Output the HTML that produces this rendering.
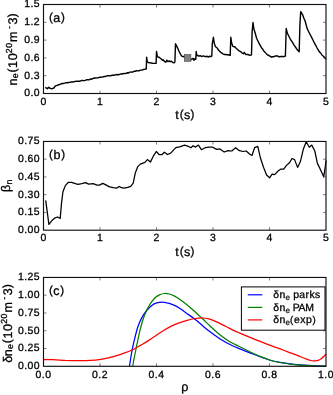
<!DOCTYPE html>
<html><head><meta charset="utf-8"><title>figure</title>
<style>html,body{margin:0;padding:0;background:#fff}svg{display:block}text{font-family:"Liberation Sans",sans-serif}</style>
</head><body>
<svg width="333" height="395" viewBox="0 0 333 395">
<defs><filter id="g" x="0" y="0" width="333" height="395" filterUnits="userSpaceOnUse" color-interpolation-filters="sRGB"><feColorMatrix type="saturate" values="0"/></filter></defs>
<rect width="333" height="395" fill="#fff"/>
<path d="M45.4 87.2 L46.4 88.2 L47.5 88.7 L48.2 87.8 L48.8 87.2 L49.8 88.2 L51.1 88.7 L52.5 88.5 L53.8 88.0 L54.8 86.8 L55.6 85.8 L57.0 85.4 L58.3 85.0 L59.6 84.4 L61.0 84.0 L62.2 83.4 L63.4 83.5 L64.6 83.1 L65.9 82.6 L67.3 82.8 L68.7 82.5 L70.0 82.4 L71.1 81.9 L72.2 82.1 L73.4 81.6 L74.5 81.7 L75.6 81.3 L76.8 81.2 L77.9 81.3 L79.0 81.2 L80.1 81.3 L81.2 80.5 L82.4 80.4 L83.5 80.6 L84.6 80.6 L85.8 80.1 L86.9 79.8 L88.0 79.7 L89.1 79.9 L90.2 78.9 L91.4 79.3 L92.5 78.6 L93.6 78.3 L94.8 78.0 L95.9 78.0 L97.0 77.9 L98.3 77.9 L99.5 77.2 L100.8 77.3 L102.0 77.1 L103.3 76.8 L104.4 76.5 L105.6 76.5 L106.7 75.9 L107.9 75.8 L109.0 75.7 L110.2 75.9 L111.3 75.5 L112.5 75.3 L113.6 75.3 L114.8 75.0 L115.9 74.9 L117.1 74.5 L118.2 74.7 L119.4 74.5 L120.5 73.9 L121.7 74.0 L122.8 73.7 L124.0 73.5 L125.1 73.6 L126.3 73.3 L127.4 72.7 L128.6 73.0 L129.7 72.1 L130.9 72.1 L132.0 72.0 L133.1 72.0 L134.3 71.2 L135.4 71.3 L136.6 70.7 L137.7 70.9 L138.9 70.8 L140.0 70.3 L141.1 70.1 L142.3 70.1 L143.4 69.4 L144.6 69.4 L145.7 69.0 L146.3 68.8 L146.6 57.1 L147.2 61.5 L148.2 62.5 L149.8 62.8 L151.3 63.0 L152.6 63.3 L153.9 63.4 L156.1 63.4 L156.5 51.4 L157.4 56.4 L158.3 57.4 L159.2 57.1 L160.2 58.3 L161.4 59.0 L162.4 60.2 L163.3 60.0 L164.6 61.5 L165.9 62.1 L166.9 60.2 L168.0 61.7 L169.3 60.9 L170.3 61.7 L171.5 61.2 L172.8 62.5 L174.3 62.7 L174.9 62.1 L175.5 43.8 L176.6 45.9 L177.8 48.4 L178.8 50.8 L180.7 54.6 L181.9 56.2 L184.1 56.8 L186.0 57.5 L187.5 58.1 L189.0 58.8 L191.0 59.6 L192.0 59.0 L193.3 58.4 L193.9 60.3 L195.2 58.4 L195.8 59.3 L196.2 51.4 L196.7 55.9 L197.7 55.2 L199.0 56.2 L200.2 55.6 L201.5 56.5 L203.4 55.9 L205.3 56.7 L207.2 56.2 L208.4 57.1 L209.7 56.2 L210.9 56.7 L211.8 55.9 L212.3 43.5 L213.4 37.3 L214.3 43.5 L215.5 46.7 L217.0 47.8 L218.5 50.0 L219.7 51.4 L220.8 52.3 L223.0 53.8 L224.2 54.5 L225.3 54.5 L227.5 54.8 L228.8 55.0 L230.2 55.3 L230.8 37.3 L231.7 43.3 L232.8 46.3 L235.0 47.0 L236.2 48.3 L237.3 49.3 L239.5 51.2 L240.7 51.6 L241.8 52.7 L243.3 53.8 L244.3 52.3 L245.5 54.2 L246.7 54.5 L247.8 54.5 L250.0 55.3 L251.5 54.8 L252.1 32.0 L253.0 22.5 L253.9 29.0 L255.3 33.5 L256.6 38.3 L257.8 40.8 L259.1 43.4 L260.3 45.6 L261.5 47.7 L262.8 49.3 L264.0 51.3 L265.2 52.4 L266.5 53.9 L267.7 55.0 L268.9 55.4 L270.2 56.4 L271.4 57.2 L272.6 56.7 L273.9 56.7 L275.1 56.0 L276.3 56.0 L277.5 55.9 L278.8 56.7 L280.0 56.7 L281.2 56.4 L282.5 56.5 L283.7 56.7 L285.4 56.0 L286.2 28.4 L287.4 33.3 L288.6 35.7 L289.9 38.3 L291.1 40.5 L292.4 42.1 L293.6 44.4 L294.8 46.2 L296.1 48.0 L297.3 49.8 L299.2 51.8 L299.9 24.7 L300.7 11.7 L302.7 14.9 L303.9 18.2 L305.1 21.0 L307.1 28.4 L308.3 31.0 L309.6 33.5 L310.8 35.8 L312.0 38.1 L313.3 40.7 L314.5 43.2 L315.7 45.3 L317.0 47.8 L318.2 49.8 L319.4 51.9 L320.7 53.0 L321.9 55.0 L323.1 56.0 L324.4 57.3 L325.6 58.7 L326.3 59.2" fill="none" stroke="#000" stroke-width="1.4" stroke-linejoin="round" stroke-linecap="butt"/>
<rect x="184.3" y="54.5" width="6.6" height="6.8" fill="#808080" stroke="#444" stroke-width="0.6"/>
<rect x="43.5" y="4.5" width="282.50" height="89.00" fill="none" stroke="#111" stroke-width="1.15"/>
<path d="M100.00 93.5v-3.0M100.00 4.5v3.0M156.50 93.5v-3.0M156.50 4.5v3.0M213.00 93.5v-3.0M213.00 4.5v3.0M269.50 93.5v-3.0M269.50 4.5v3.0M43.5 75.70h3.0M326.0 75.70h-3.0M43.5 57.90h3.0M326.0 57.90h-3.0M43.5 40.10h3.0M326.0 40.10h-3.0M43.5 22.30h3.0M326.0 22.30h-3.0" stroke="#333" stroke-width="0.65" fill="none"/>
<path d="M45.7 200.3 L48.9 224.4 L50.5 222.3 L52.2 220.3 L55.2 217.8 L57.7 217.0 L60.2 218.5 L61.5 203.4 L62.9 192.0 L65.3 185.6 L68.4 182.3 L71.6 182.3 L75.4 183.6 L78.0 184.4 L81.8 183.6 L85.6 182.6 L88.6 184.1 L93.2 183.6 L97.0 185.1 L99.5 185.1 L102.8 183.4 L105.8 184.9 L109.6 186.9 L113.4 187.7 L116.7 188.2 L119.0 186.4 L121.5 187.7 L124.0 188.2 L127.7 187.4 L130.7 186.4 L133.2 183.1 L135.3 173.0 L137.8 166.6 L140.3 164.1 L144.9 162.3 L147.4 159.6 L150.4 162.1 L153.5 155.8 L156.3 151.5 L159.3 154.7 L161.8 154.7 L164.4 152.2 L167.4 154.5 L170.7 153.2 L175.8 147.7 L179.6 146.9 L184.6 145.1 L188.4 146.4 L191.0 147.7 L193.0 145.7 L195.6 147.1 L198.4 145.1 L201.4 149.7 L205.2 147.7 L209.0 147.2 L212.8 147.2 L216.6 149.4 L219.9 148.9 L224.2 152.0 L228.0 150.7 L231.8 151.0 L235.6 147.7 L239.4 150.7 L243.2 151.5 L246.2 151.0 L249.5 154.0 L252.0 155.5 L254.6 147.7 L257.8 146.4 L260.4 157.8 L263.5 167.2 L266.6 175.0 L269.6 177.8 L272.1 174.2 L274.6 174.6 L278.1 171.0 L280.6 169.2 L283.7 169.2 L286.5 165.4 L289.5 162.8 L292.0 158.5 L294.6 159.6 L297.6 167.4 L300.4 161.6 L303.4 148.9 L306.2 141.8 L309.3 147.2 L311.8 145.1 L314.8 151.0 L317.4 163.4 L319.9 168.4 L323.7 176.8 L326.2 160.3" fill="none" stroke="#000" stroke-width="1.25" stroke-linejoin="round" stroke-linecap="butt"/>
<rect x="43.5" y="141.45" width="282.50" height="88.75" fill="none" stroke="#111" stroke-width="1.15"/>
<path d="M100.00 230.2v-3.0M100.00 141.45v3.0M156.50 230.2v-3.0M156.50 141.45v3.0M213.00 230.2v-3.0M213.00 141.45v3.0M269.50 230.2v-3.0M269.50 141.45v3.0M43.5 212.45h3.0M326.0 212.45h-3.0M43.5 194.70h3.0M326.0 194.70h-3.0M43.5 176.95h3.0M326.0 176.95h-3.0M43.5 159.20h3.0M326.0 159.20h-3.0" stroke="#333" stroke-width="0.65" fill="none"/>
<path d="M129.5 366.2C129.8 364.1 130.7 357.7 131.5 353.5C132.3 349.3 133.0 345.3 134.1 340.9C135.2 336.5 136.6 330.8 137.8 327.0C139.1 323.2 140.1 320.9 141.6 318.1C143.1 315.4 145.0 312.6 146.7 310.5C148.4 308.4 150.1 306.7 151.8 305.4C153.5 304.1 155.1 303.4 156.8 302.9C158.5 302.4 160.2 302.2 161.9 302.2C163.6 302.2 165.1 302.4 167.0 302.9C168.9 303.3 171.1 304.0 173.3 304.9C175.5 305.8 177.7 307.0 180.0 308.5C182.3 310.0 184.6 311.9 187.2 313.7C189.8 315.5 192.6 317.4 195.3 319.5C198.0 321.6 200.6 324.1 203.4 326.4C206.2 328.7 209.4 331.3 212.4 333.5C215.4 335.7 218.4 337.9 221.4 339.8C224.4 341.7 227.4 343.3 230.5 344.8C233.6 346.3 236.1 347.3 239.8 348.8C243.6 350.3 249.3 352.6 253.0 354.0C256.7 355.4 259.0 356.4 262.0 357.5C265.0 358.6 268.0 359.7 271.0 360.5C274.0 361.3 276.5 361.8 280.0 362.4C283.5 363.0 287.9 363.6 292.0 364.1C296.1 364.6 300.5 364.9 304.7 365.2C308.9 365.5 313.8 365.7 317.4 365.9C320.9 366.1 324.6 366.1 326.0 366.2" fill="none" stroke="#0000ff" stroke-width="1.25"/>
<path d="M132.8 366.2C132.9 365.4 133.2 363.2 133.5 361.5C133.8 359.8 134.2 358.1 134.6 356.0C135.0 353.9 135.5 351.6 136.0 349.0C136.5 346.4 137.1 343.6 137.8 340.4C138.5 337.2 139.2 333.3 140.1 329.8C141.0 326.3 142.1 322.4 143.1 319.3C144.1 316.2 145.3 313.4 146.2 311.3C147.1 309.2 147.5 308.6 148.4 307.0C149.3 305.4 150.6 303.2 151.8 301.6C153.0 300.0 154.3 298.4 155.6 297.3C156.9 296.2 157.9 295.4 159.4 294.8C160.9 294.2 162.7 293.6 164.4 293.5C166.1 293.4 167.8 293.6 169.5 294.0C171.2 294.4 172.8 295.2 174.6 296.1C176.3 297.0 177.9 298.1 180.0 299.6C182.1 301.1 184.6 302.8 187.2 304.9C189.8 307.0 192.8 309.7 195.3 312.0C197.9 314.3 199.9 316.4 202.5 318.8C205.1 321.2 207.8 323.9 210.6 326.5C213.4 329.1 216.6 332.1 219.6 334.5C222.6 336.9 226.0 339.4 228.6 341.0C231.2 342.6 233.1 343.4 235.0 344.4C236.9 345.4 238.3 346.1 239.8 346.8C241.3 347.5 241.8 347.7 244.0 348.8C246.2 349.9 250.0 351.9 253.0 353.3C256.0 354.7 259.0 356.0 262.0 357.2C265.0 358.4 268.0 359.6 271.0 360.5C274.0 361.4 276.5 361.9 280.0 362.5C283.5 363.1 287.9 363.8 292.0 364.3C296.1 364.8 300.5 365.1 304.7 365.4C308.9 365.7 313.8 365.9 317.4 366.0C320.9 366.1 324.6 366.2 326.0 366.2" fill="none" stroke="#008000" stroke-width="1.25"/>
<path d="M43.5 359.5C45.0 359.5 49.1 359.6 52.7 359.7C56.3 359.8 61.1 360.2 65.3 360.4C69.5 360.5 73.8 360.6 78.0 360.6C82.2 360.6 86.8 360.6 90.6 360.4C94.4 360.2 97.8 359.8 100.8 359.4C103.8 359.0 105.9 358.4 108.4 357.8C110.9 357.2 113.3 356.7 115.9 355.9C118.5 355.1 121.2 354.2 124.0 353.2C126.8 352.2 130.1 351.0 132.8 349.7C135.5 348.4 137.9 346.9 140.4 345.4C142.9 343.9 145.5 342.5 148.0 340.9C150.5 339.3 153.1 337.5 155.6 335.8C158.1 334.1 160.7 332.4 163.2 330.8C165.7 329.2 168.3 327.7 170.8 326.4C173.3 325.1 175.7 324.2 178.4 323.2C181.1 322.2 184.4 321.1 187.2 320.3C190.0 319.5 192.8 318.9 195.3 318.5C197.9 318.1 200.2 317.9 202.5 318.0C204.8 318.1 206.6 318.3 208.8 318.9C211.1 319.5 213.3 320.4 216.0 321.6C218.7 322.8 222.0 324.5 225.0 326.0C228.0 327.5 231.5 329.4 234.0 330.6C236.5 331.8 236.6 331.8 239.8 333.1C243.0 334.4 247.8 336.5 253.0 338.6C258.2 340.7 266.0 343.7 271.0 345.6C276.0 347.5 279.0 348.5 283.0 350.0C287.0 351.5 292.0 353.3 294.8 354.4C297.6 355.4 297.9 355.6 299.6 356.3C301.3 357.0 303.2 357.8 305.0 358.5C306.8 359.2 309.0 360.1 310.5 360.5C312.0 360.9 312.8 360.9 314.0 360.9C315.2 360.9 316.8 360.7 318.0 360.3C319.2 359.9 320.5 359.1 321.5 358.4C322.5 357.7 323.2 357.1 324.0 356.3C324.8 355.5 325.7 354.2 326.0 353.8" fill="none" stroke="#ff0000" stroke-width="1.25"/>
<rect x="43.5" y="277.45" width="282.50" height="88.85" fill="none" stroke="#111" stroke-width="1.15"/>
<path d="M100.00 366.3v-3.0M100.00 277.45v3.0M156.50 366.3v-3.0M156.50 277.45v3.0M213.00 366.3v-3.0M213.00 277.45v3.0M269.50 366.3v-3.0M269.50 277.45v3.0M43.5 348.53h3.0M326.0 348.53h-3.0M43.5 330.76h3.0M326.0 330.76h-3.0M43.5 312.99h3.0M326.0 312.99h-3.0M43.5 295.22h3.0M326.0 295.22h-3.0" stroke="#333" stroke-width="0.65" fill="none"/>
<rect x="241.4" y="286.9" width="83.6" height="43.3" fill="#fff" stroke="#000" stroke-width="1"/>
<path d="M247.8 294.8H262.3" stroke="#0000ff" stroke-width="1.2"/>
<path d="M247.8 307.4H262.3" stroke="#008000" stroke-width="1.2"/>
<path d="M247.8 319.9H262.3" stroke="#ff0000" stroke-width="1.2"/>
<g font-family="Liberation Sans, sans-serif" fill="#000" stroke="#000" stroke-width="0.3" text-rendering="geometricPrecision" filter="url(#g)">
<text x="24.23" y="96.30" font-size="10.45" letter-spacing="0.46">0.0</text>
<text x="24.23" y="78.50" font-size="10.45" letter-spacing="0.46">0.3</text>
<text x="24.23" y="60.70" font-size="10.45" letter-spacing="0.46">0.6</text>
<text x="24.23" y="42.90" font-size="10.45" letter-spacing="0.46">0.9</text>
<text x="24.23" y="25.10" font-size="10.45" letter-spacing="0.46">1.2</text>
<text x="24.23" y="7.30" font-size="10.45" letter-spacing="0.46">1.5</text>
<text x="17.88" y="233.00" font-size="10.45" letter-spacing="0.48">0.00</text>
<text x="17.88" y="215.25" font-size="10.45" letter-spacing="0.48">0.15</text>
<text x="17.88" y="197.50" font-size="10.45" letter-spacing="0.48">0.30</text>
<text x="17.88" y="179.75" font-size="10.45" letter-spacing="0.48">0.45</text>
<text x="17.88" y="162.00" font-size="10.45" letter-spacing="0.48">0.60</text>
<text x="17.88" y="144.25" font-size="10.45" letter-spacing="0.48">0.75</text>
<text x="17.88" y="369.10" font-size="10.45" letter-spacing="0.48">0.00</text>
<text x="17.88" y="351.33" font-size="10.45" letter-spacing="0.48">0.25</text>
<text x="17.88" y="333.56" font-size="10.45" letter-spacing="0.48">0.50</text>
<text x="17.88" y="315.79" font-size="10.45" letter-spacing="0.48">0.75</text>
<text x="17.88" y="298.02" font-size="10.45" letter-spacing="0.48">1.00</text>
<text x="17.88" y="280.25" font-size="10.45" letter-spacing="0.48">1.25</text>
<text x="40.39" y="104.75" font-size="10.45" letter-spacing="0.55">0</text>
<text x="96.89" y="104.75" font-size="10.45" letter-spacing="0.55">1</text>
<text x="153.39" y="104.75" font-size="10.45" letter-spacing="0.55">2</text>
<text x="209.89" y="104.75" font-size="10.45" letter-spacing="0.55">3</text>
<text x="266.39" y="104.75" font-size="10.45" letter-spacing="0.55">4</text>
<text x="322.89" y="104.75" font-size="10.45" letter-spacing="0.55">5</text>
<text x="40.39" y="241.45" font-size="10.45" letter-spacing="0.55">0</text>
<text x="96.89" y="241.45" font-size="10.45" letter-spacing="0.55">1</text>
<text x="153.39" y="241.45" font-size="10.45" letter-spacing="0.55">2</text>
<text x="209.89" y="241.45" font-size="10.45" letter-spacing="0.55">3</text>
<text x="266.39" y="241.45" font-size="10.45" letter-spacing="0.55">4</text>
<text x="322.89" y="241.45" font-size="10.45" letter-spacing="0.55">5</text>
<text x="35.58" y="377.55" font-size="10.45" letter-spacing="0.46">0.0</text>
<text x="92.08" y="377.55" font-size="10.45" letter-spacing="0.46">0.2</text>
<text x="148.58" y="377.55" font-size="10.45" letter-spacing="0.46">0.4</text>
<text x="205.08" y="377.55" font-size="10.45" letter-spacing="0.46">0.6</text>
<text x="261.58" y="377.55" font-size="10.45" letter-spacing="0.46">0.8</text>
<text x="318.08" y="377.55" font-size="10.45" letter-spacing="0.46">1.0</text>
<text x="48.90" y="21.44" font-size="11.66" letter-spacing="0.80">(</text>
<text x="53.37" y="22.40" font-size="12.54" letter-spacing="0.38">a</text>
<text x="60.93" y="21.44" font-size="11.66" letter-spacing="0.80">)</text>
<text x="48.90" y="158.24" font-size="11.66" letter-spacing="0.80">(</text>
<text x="53.50" y="159.20" font-size="12.54" letter-spacing="0.64">b</text>
<text x="61.20" y="158.24" font-size="11.66" letter-spacing="0.80">)</text>
<text x="48.90" y="294.44" font-size="11.66" letter-spacing="0.80">(</text>
<text x="53.35" y="295.40" font-size="12.54" letter-spacing="0.33">c</text>
<text x="60.18" y="294.44" font-size="11.66" letter-spacing="0.80">)</text>
<text x="175.15" y="119.00" font-size="12.54" letter-spacing="1.22">t</text>
<text x="179.64" y="118.04" font-size="11.66" letter-spacing="0.80">(</text>
<text x="183.92" y="119.00" font-size="12.54" letter-spacing="-0.02">s</text>
<text x="190.58" y="118.04" font-size="11.66" letter-spacing="0.80">)</text>
<text x="175.15" y="255.70" font-size="12.54" letter-spacing="1.22">t</text>
<text x="179.64" y="254.74" font-size="11.66" letter-spacing="0.80">(</text>
<text x="183.92" y="255.70" font-size="12.54" letter-spacing="-0.02">s</text>
<text x="190.58" y="254.74" font-size="11.66" letter-spacing="0.80">)</text>
<text x="181.23" y="390.90" font-size="12.54" letter-spacing="0.48">ρ</text>
<g transform="translate(16.5,85.9) rotate(-90)">
<text x="0.32" y="0.00" font-size="12.54" letter-spacing="0.63">n</text>
<text x="7.64" y="1.50" font-size="8.78" letter-spacing="0.29">e</text>
<text x="13.30" y="-0.96" font-size="11.66" letter-spacing="0.80">(</text>
<text x="17.91" y="0.00" font-size="12.54" letter-spacing="0.66">10</text>
<text x="32.73" y="-4.80" font-size="8.78" letter-spacing="0.46">20</text>
<text x="43.92" y="0.00" font-size="12.54" letter-spacing="1.24">m</text>
<text x="56.85" y="-4.80" font-size="8.78" letter-spacing="0.11">-</text>
<text x="61.33" y="0.00" font-size="12.54" letter-spacing="0.66">3</text>
<text x="68.60" y="-0.96" font-size="11.66" letter-spacing="0.80">)</text>
</g>
<g transform="translate(11.7,356.5) rotate(-90)">
<text x="-6.32" y="0.00" font-size="12.54" letter-spacing="0.36">δ</text>
<text x="0.32" y="0.00" font-size="12.54" letter-spacing="0.63">n</text>
<text x="7.64" y="1.50" font-size="8.78" letter-spacing="0.29">e</text>
<text x="13.30" y="-0.96" font-size="11.66" letter-spacing="0.80">(</text>
<text x="17.91" y="0.00" font-size="12.54" letter-spacing="0.66">10</text>
<text x="32.73" y="-4.80" font-size="8.78" letter-spacing="0.46">20</text>
<text x="43.92" y="0.00" font-size="12.54" letter-spacing="1.24">m</text>
<text x="56.85" y="-4.80" font-size="8.78" letter-spacing="0.11">-</text>
<text x="61.33" y="0.00" font-size="12.54" letter-spacing="0.66">3</text>
<text x="68.60" y="-0.96" font-size="11.66" letter-spacing="0.80">)</text>
</g>
<g transform="translate(10.4,192.3) rotate(-90)">
<text x="0.22" y="0.00" font-size="12.54" letter-spacing="0.45">β</text>
<text x="7.88" y="1.70" font-size="8.78" letter-spacing="0.44">n</text>
</g>
<text x="273.21" y="298.20" font-size="10.45" letter-spacing="0.41">δn</text>
<text x="285.39" y="299.90" font-size="8.05" letter-spacing="0.26" stroke-width="0.2">e</text>
<text x="293.17" y="298.20" font-size="10.45" letter-spacing="0.41">parks</text>
<text x="273.21" y="310.80" font-size="10.45" letter-spacing="0.41">δn</text>
<text x="285.39" y="312.50" font-size="8.05" letter-spacing="0.26" stroke-width="0.2">e</text>
<text x="292.77" y="310.80" font-size="10.45" letter-spacing="-0.38">PAM</text>
<text x="273.21" y="323.30" font-size="10.45" letter-spacing="0.41">δn</text>
<text x="285.39" y="325.00" font-size="8.05" letter-spacing="0.26" stroke-width="0.2">e</text>
<text x="290.10" y="322.50" font-size="9.72" letter-spacing="0.67">(</text>
<text x="293.93" y="323.30" font-size="10.45" letter-spacing="0.52">exp</text>
<text x="312.41" y="322.50" font-size="9.72" letter-spacing="0.67">)</text>
</g>
</svg>
</body></html>
